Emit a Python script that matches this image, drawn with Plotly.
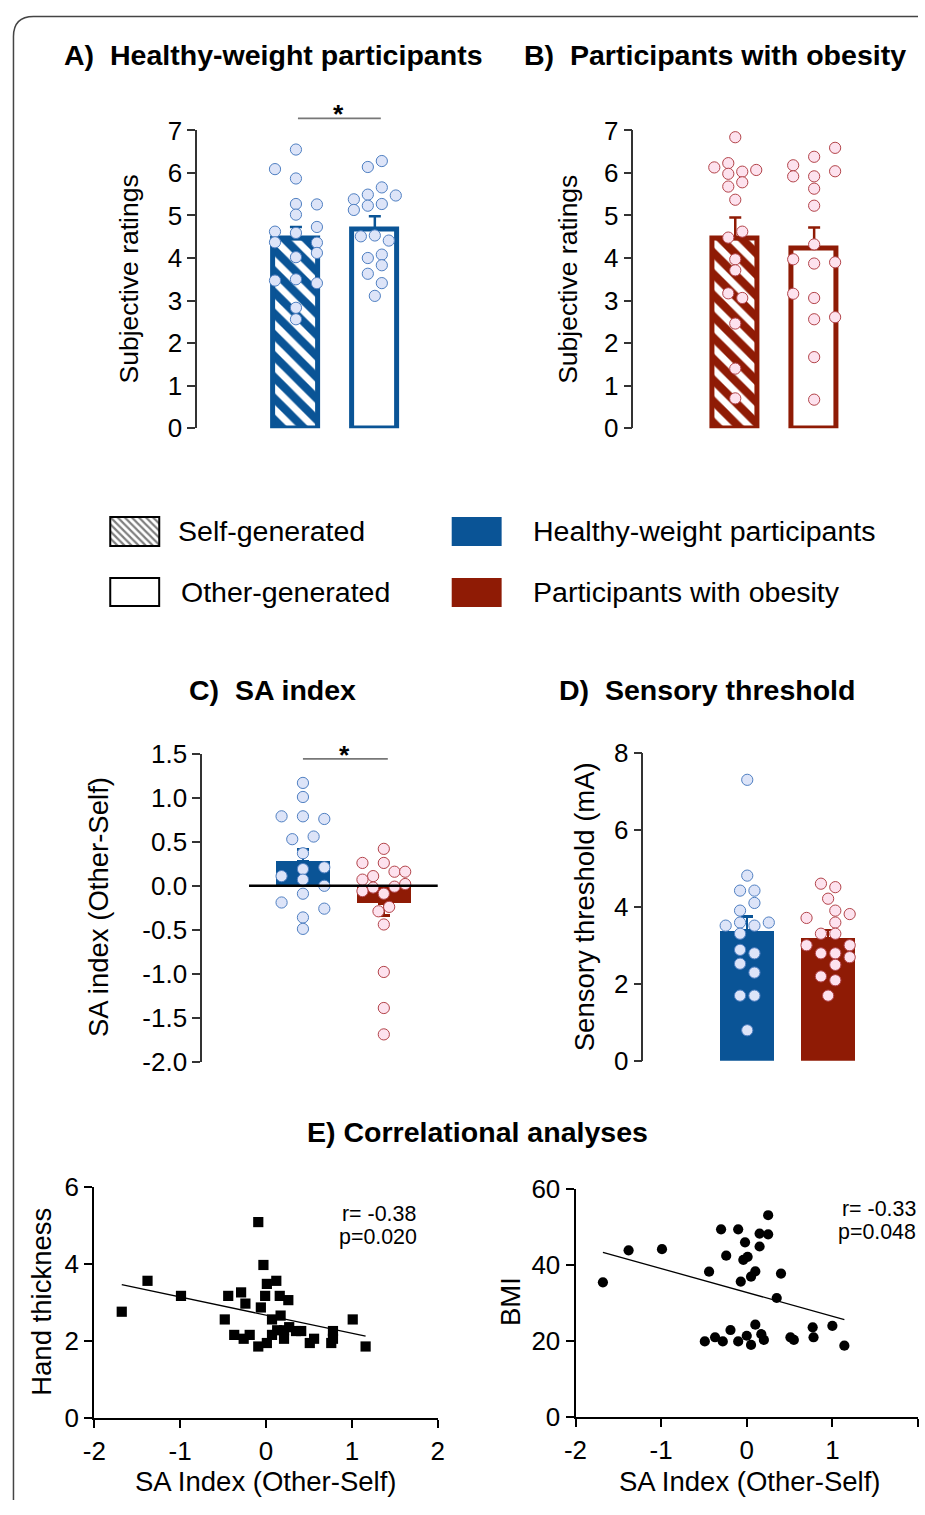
import numpy as np
import plotly.graph_objects as go

W, H = 925, 1515
BLUE = "#0a5496"
RED = "#8f1b05"
PT_BLUE_FILL = "#dde4f8"
PT_BLUE_EDGE = "#5080c2"
PT_RED_FILL = "#fde2ee"
PT_RED_EDGE = "#b3454b"
AXC = "#333333"
FONT = "Liberation Sans, Arial, Helvetica, sans-serif"

# ---------------- data ----------------
conditions = ["Self-generated", "Other-generated"]
groups = ["Healthy-weight participants", "Participants with obesity"]

# A) Healthy-weight participants: subjective ratings
A_self = [6.55, 6.09, 5.87, 5.27, 5.26, 5.02, 4.62, 4.73, 4.59, 4.37, 4.36, 4.12, 4.02, 3.47, 3.50, 3.41, 2.83, 2.56]
A_self_lane = [0, -3, 0, 0, 3, 0, -3, 3, 0, -3, 3, 3, 0, -3, 0, 3, 0, 0]
A_other = [6.28, 6.14, 5.66, 5.49, 5.47, 5.38, 5.23, 5.27, 5.13, 4.51, 4.53, 4.41, 4.00, 4.08, 3.83, 3.63, 3.41, 3.11]
A_other_lane = [1, -1, 1, -1, 3, -3, -1, 1, -3, -2, 0, 2, -1, 1, 1, -1, 1, 0]
A_mean = [4.45, 4.68]
A_sem = [0.28, 0.30]

# B) Participants with obesity: subjective ratings
B_self = [6.84, 6.13, 6.23, 5.98, 6.03, 6.07, 5.78, 5.68, 5.37, 4.62, 4.48, 3.97, 3.71, 3.17, 3.06, 2.46, 1.40, 0.70]
B_self_lane = [0, -3, -1, -1, 1, 3, 1, -1, 0, 1, -1, 0, 0, -1, 1, 0, 0, 0]
B_other = [6.59, 6.38, 6.18, 5.92, 5.92, 6.04, 5.63, 5.23, 4.32, 3.97, 3.87, 3.90, 3.16, 3.06, 2.56, 2.61, 1.67, 0.67]
B_other_lane = [3, 0, -3, -3, 0, 3, 0, 0, 0, -3, 0, 3, -3, 0, 0, 3, 0, 0]
B_mean = [4.45, 4.22]
B_sem = [0.50, 0.50]

# C) SA index (Other-Self)
C_hw = [1.17, 1.01, 0.79, 0.79, 0.76, 0.53, 0.56, 0.37, 0.19, 0.21, 0.11, 0.07, 0.00, -0.09, -0.19, -0.26, -0.36, -0.49]
C_hw_lane = [0, 0, -2, 0, 2, -1, 1, 0, 0, 2, -2, 0, 2, 0, -2, 2, 0, 0]
C_ob = [0.42, 0.26, 0.26, 0.16, 0.16, 0.11, 0.07, -0.02, -0.01, 0.02, -0.06, -0.09, -0.24, -0.29, -0.44, -0.98, -1.39, -1.69]
C_ob_lane = [0, -2, 0, 1, 2, -1, -2, -1, 1, 2, -2, 0, 0.5, -0.5, 0, 0, 0, 0]
C_mean = [0.28, -0.20]
C_sem = [0.13, 0.14]

# D) Sensory threshold (mA)
D_hw = [7.30, 4.81, 4.42, 4.42, 4.10, 3.90, 3.59, 3.51, 3.51, 3.59, 3.30, 2.88, 2.79, 2.52, 2.29, 1.69, 1.69, 0.79]
D_hw_lane = [0, 0, -1, 1, 1, -1, -1, -3, 1, 3, -1, -1, 1, -1, 1, -1, 1, 0]
D_ob = [4.60, 4.51, 4.21, 3.90, 3.81, 3.71, 3.59, 3.30, 3.30, 3.00, 3.00, 2.69, 2.79, 2.79, 2.49, 2.19, 2.09, 1.69]
D_ob_lane = [-1, 1, 0, 1, 3, -3, 1, -1, 1, -3, 3, 3, -1, 1, 1, -1, 1, 0]
D_mean = [3.38, 3.19]
D_sem = [0.37, 0.21]

# E) Correlational analyses
E1_sa = [-1.68, -1.38, -0.99, -0.48, -0.44, -0.37, -0.29, -0.26, -0.24, -0.19, -0.09, -0.09, -0.06, -0.03,
         -0.01, 0.01, 0.01, 0.07, 0.07, 0.12, 0.13, 0.16, 0.17, 0.21, 0.21, 0.26, 0.27, 0.35, 0.41, 0.51,
         0.56, 0.76, 0.78, 0.78, 1.01, 1.16]
E1_hand = [2.76, 3.56, 3.17, 2.56, 3.17, 2.16, 3.26, 2.06, 2.97, 2.16, 5.08, 1.86, 2.87, 3.97,
           3.17, 3.48, 1.95, 2.56, 2.16, 3.56, 2.28, 3.17, 2.66, 2.06, 2.28, 3.06, 2.36, 2.26, 2.26, 1.95,
           2.06, 1.95, 2.26, 2.06, 2.56, 1.86]
E2_sa = [-1.68, -1.38, -0.99, -0.49, -0.44, -0.37, -0.30, -0.28, -0.24, -0.19, -0.10, -0.10, -0.07, -0.04,
         -0.02, 0.00, 0.01, 0.05, 0.05, 0.10, 0.10, 0.15, 0.15, 0.17, 0.20, 0.25, 0.25, 0.35, 0.40, 0.51,
         0.55, 0.77, 0.78, 1.00, 1.14]
E2_bmi = [35.4, 43.8, 44.1, 19.9, 38.2, 21.0, 49.3, 19.9, 42.4, 22.9, 49.3, 19.9, 35.6, 41.3,
          45.9, 21.4, 42.1, 19.0, 36.9, 38.3, 24.3, 48.2, 44.8, 21.8, 20.3, 53.0, 48.0, 31.3, 37.7, 21.0,
          20.3, 23.6, 21.0, 24.0, 18.8]
E1_r, E1_p = "r= -0.38", "p=0.020"
E2_r, E2_p = "r= -0.33", "p=0.048"

# ---------------- layout helpers ----------------
# Layout positions below are given in the reference picture's pixels; the rendered page is
# shown slightly inset/scaled, so they are mapped onto page pixels here.
SC = 0.981
OX, OY = 10.6, 14.5

def X(r):
    return min(max((r - OX) / SC, 0), W)

def Y(r):
    return min(max((r - OY) / SC, 0), H)

def FS(s):
    return s / SC

def px(r):
    return X(r) / W

def py(r):
    return 1 - Y(r) / H

def xdom(a, b):
    return [px(a), px(b)]

def ydom(top, bottom):
    return [py(bottom), py(top)]

fig = go.Figure()

TICKSZ = FS(25.5)
ytick_style = dict(showline=True, linecolor=AXC, linewidth=1.6, ticks="outside", ticklen=8,
                   tickwidth=1.6, tickcolor=AXC, showgrid=False, zeroline=False,
                   tickfont=dict(size=TICKSZ, family=FONT, color="black"))
hidden_x = dict(showline=False, showticklabels=False, showgrid=False, zeroline=False, ticks="")

def xrange_for(left_px, right_px, c0_px, spacing):
    return [(left_px - c0_px) / spacing, (right_px - c0_px) / spacing]

panels = {
    "A": dict(xd=(196, 420), c0=295, sp=79, yd=(130, 428)),
    "B": dict(xd=(633, 860), c0=735, sp=79, yd=(130, 428)),
    "C": dict(xd=(248, 437), c0=302, sp=81, yd=(754, 1062), ypos=200),
    "D": dict(xd=(643, 870), c0=747, sp=81, yd=(753, 1061)),
}

layout_axes = {}
p = panels["A"]
layout_axes["xaxis"] = dict(domain=xdom(*p["xd"]), range=xrange_for(p["xd"][0], p["xd"][1], p["c0"], p["sp"]),
                            anchor="y", **hidden_x)
layout_axes["yaxis"] = dict(domain=ydom(*p["yd"]), range=[0, 7], anchor="x",
                            tickvals=list(range(0, 8)), ticktext=[str(v) for v in range(0, 8)], **ytick_style)
p = panels["B"]
layout_axes["xaxis2"] = dict(domain=xdom(*p["xd"]), range=xrange_for(p["xd"][0], p["xd"][1], p["c0"], p["sp"]),
                             anchor="y2", **hidden_x)
layout_axes["yaxis2"] = dict(domain=ydom(*p["yd"]), range=[0, 7], anchor="x2",
                             tickvals=list(range(0, 8)), ticktext=[str(v) for v in range(0, 8)], **ytick_style)
p = panels["C"]
cvals = [1.5, 1.0, 0.5, 0.0, -0.5, -1.0, -1.5, -2.0]
layout_axes["xaxis3"] = dict(domain=xdom(*p["xd"]), range=xrange_for(p["xd"][0], p["xd"][1], p["c0"], p["sp"]),
                             anchor="y3", **hidden_x)
layout_axes["yaxis3"] = dict(domain=ydom(*p["yd"]), range=[-2, 1.5], anchor="free", position=px(p["ypos"]),
                             tickvals=cvals, ticktext=[f"{v:.1f}" for v in cvals], **ytick_style)
p = panels["D"]
dvals = [0, 2, 4, 6, 8]
layout_axes["xaxis4"] = dict(domain=xdom(*p["xd"]), range=xrange_for(p["xd"][0], p["xd"][1], p["c0"], p["sp"]),
                             anchor="y4", **hidden_x)
layout_axes["yaxis4"] = dict(domain=ydom(*p["yd"]), range=[0, 8], anchor="x4",
                             tickvals=dvals, ticktext=[str(v) for v in dvals], **ytick_style)
e_style = dict(showline=True, linecolor="black", linewidth=2, ticks="outside", ticklen=8, tickwidth=2,
               tickcolor="black", showgrid=False, zeroline=False,
               tickfont=dict(size=TICKSZ, family=FONT, color="black"))
exvals = [-2, -1, 0, 1, 2]
layout_axes["xaxis5"] = dict(domain=xdom(93, 437), range=[-2, 2], anchor="y5",
                             tickvals=exvals, ticktext=[str(v) for v in exvals], **e_style)
layout_axes["yaxis5"] = dict(domain=ydom(1187, 1419), range=[0, 6], anchor="x5",
                             tickvals=[0, 2, 4, 6], ticktext=["0", "2", "4", "6"], **e_style)
e6 = dict(e_style)
layout_axes["xaxis6"] = dict(domain=[px(575), 1.0], range=[-2, 2 * (W - X(748)) / (X(920) - X(748))],
                             anchor="y6", tickvals=exvals, ticktext=[str(v) for v in exvals], **e6)
layout_axes["yaxis6"] = dict(domain=ydom(1189, 1418), range=[0, 60], anchor="x6",
                             tickvals=[0, 20, 40, 60], ticktext=["0", "20", "40", "60"], **e_style)
layout_axes["xaxis7"] = dict(domain=xdom(105, 162), range=[-0.582, 0.582], anchor="y7", visible=False)
layout_axes["yaxis7"] = dict(domain=ydom(513, 550), range=[-0.138, 1.138], anchor="x7", visible=False)

# ---------------- traces ----------------
def lanes_to_x(center, lanes, step):
    return [center + l * step for l in lanes]

PT_SIZE = FS(11)

def rating_panel(xa, ya, means, sems, color, self_pts, self_lane, other_pts, other_lane, pfill, pedge, step):
    fig.add_trace(go.Bar(x=[0], y=[means[0]], width=0.57, xaxis=xa, yaxis=ya,
                         marker=dict(color="white", line=dict(color=color, width=5),
                                     pattern=dict(shape="\\", fgcolor=color, bgcolor="white",
                                                  size=15, solidity=0.55, fgopacity=1)),
                         error_y=dict(type="data", symmetric=False, array=[sems[0]], arrayminus=[0],
                                      color=color, thickness=2.5, width=6)))
    fig.add_trace(go.Bar(x=[1], y=[means[1]], width=0.57, xaxis=xa, yaxis=ya,
                         marker=dict(color="white", line=dict(color=color, width=5)),
                         error_y=dict(type="data", symmetric=False, array=[sems[1]], arrayminus=[0],
                                      color=color, thickness=2.5, width=6)))
    fig.add_trace(go.Scatter(x=lanes_to_x(0, self_lane, step), y=self_pts, mode="markers", xaxis=xa, yaxis=ya,
                             cliponaxis=False,
                             marker=dict(size=PT_SIZE, color=pfill, line=dict(color=pedge, width=1))))
    fig.add_trace(go.Scatter(x=lanes_to_x(1, other_lane, step), y=other_pts, mode="markers", xaxis=xa, yaxis=ya,
                             cliponaxis=False,
                             marker=dict(size=PT_SIZE, color=pfill, line=dict(color=pedge, width=1))))

rating_panel("x", "y", A_mean, A_sem, BLUE, A_self, A_self_lane, A_other, A_other_lane,
             PT_BLUE_FILL, PT_BLUE_EDGE, 7 / 79)
rating_panel("x2", "y2", B_mean, B_sem, RED, B_self, B_self_lane, B_other, B_other_lane,
             PT_RED_FILL, PT_RED_EDGE, 7 / 79)

def group_panel(xa, ya, means, sems, hw, hw_lane, ob, ob_lane, step):
    for i, (m, s, col) in enumerate(zip(means, sems, [BLUE, RED])):
        up = [s] if m >= 0 else [0]
        dn = [0] if m >= 0 else [s]
        fig.add_trace(go.Bar(x=[i], y=[m], width=0.667, xaxis=xa, yaxis=ya,
                             marker=dict(color=col, line=dict(color=col, width=0)),
                             error_y=dict(type="data", symmetric=False, array=up, arrayminus=dn,
                                          color=col, thickness=2.5, width=6)))
    fig.add_trace(go.Scatter(x=lanes_to_x(0, hw_lane, step), y=hw, mode="markers", xaxis=xa, yaxis=ya,
                             cliponaxis=False,
                             marker=dict(size=PT_SIZE, color=PT_BLUE_FILL, line=dict(color=PT_BLUE_EDGE, width=1))))
    fig.add_trace(go.Scatter(x=lanes_to_x(1, ob_lane, step), y=ob, mode="markers", xaxis=xa, yaxis=ya,
                             cliponaxis=False,
                             marker=dict(size=PT_SIZE, color=PT_RED_FILL, line=dict(color=PT_RED_EDGE, width=1))))

group_panel("x3", "y3", C_mean, C_sem, C_hw, C_hw_lane, C_ob, C_ob_lane, 10.7 / 81)
group_panel("x4", "y4", D_mean, D_sem, D_hw, D_hw_lane, D_ob, D_ob_lane, 7.2 / 81)

def corr_panel(xa, ya, xs, ys, symbol):
    xs = np.array(xs); ys = np.array(ys)
    fig.add_trace(go.Scatter(x=xs, y=ys, mode="markers", xaxis=xa, yaxis=ya, cliponaxis=False,
                             marker=dict(symbol=symbol, size=FS(10), color="black", line=dict(width=0))))
    slope, icpt = np.polyfit(xs, ys, 1)
    lx = np.array([xs.min(), xs.max()])
    fig.add_trace(go.Scatter(x=lx, y=slope * lx + icpt, mode="lines", xaxis=xa, yaxis=ya,
                             line=dict(color="black", width=1.3)))

corr_panel("x5", "y5", E1_sa, E1_hand, "square")
corr_panel("x6", "y6", E2_sa, E2_bmi, "circle")

fig.add_trace(go.Bar(x=[0], y=[1], width=1, xaxis="x7", yaxis="y7",
                     marker=dict(color="white", line=dict(color="black", width=2),
                                 pattern=dict(shape="\\", fgcolor="black", bgcolor="white",
                                              size=5, solidity=0.45))))

# ---------------- shapes ----------------
shapes = []
shapes.append(dict(type="line", xref="x3 domain", x0=0, x1=1, yref="y3", y0=0, y1=0,
                   line=dict(color="black", width=2.5), layer="above"))
shapes.append(dict(type="line", xref="paper", yref="paper", x0=px(297), x1=px(380), y0=py(118), y1=py(118),
                   line=dict(color="#777777", width=1.6)))
shapes.append(dict(type="line", xref="paper", yref="paper", x0=px(302), x1=px(387), y0=py(759), y1=py(759),
                   line=dict(color="#777777", width=1.6)))
shapes.append(dict(type="rect", xref="paper", yref="paper", x0=px(109), x1=px(158), y0=py(606), y1=py(578),
                   line=dict(color="black", width=2), fillcolor="white"))
shapes.append(dict(type="rect", xref="paper", yref="paper", x0=px(451), x1=px(501), y0=py(546), y1=py(517),
                   line=dict(width=0), fillcolor=BLUE))
shapes.append(dict(type="rect", xref="paper", yref="paper", x0=px(451), x1=px(501), y0=py(607), y1=py(578),
                   line=dict(width=0), fillcolor=RED))
fx0, fy0 = 1.5 / W, 1 - 1.5 / H
frame = (f"M {fx0},0 L {fx0},{1 - 22 / H} Q {fx0},{fy0} {22 / W},{fy0} L 1,{fy0}")
shapes.append(dict(type="path", xref="paper", yref="paper", path=frame,
                   line=dict(color="#444444", width=1.5)))

# ---------------- annotations ----------------
ann = []
def text(t, x, y, size, bold=False, xanchor="center", angle=0, align="center"):
    ann.append(dict(text=f"<b>{t}</b>" if bold else t, x=px(x), y=py(y), xref="paper", yref="paper",
                    showarrow=False, xanchor=xanchor, yanchor="middle", textangle=angle, align=align,
                    font=dict(size=FS(size), family=FONT, color="black")))

text("A)  Healthy-weight participants", 61, 55, 28, bold=True, xanchor="left")
text("B)  Participants with obesity", 521, 55, 28, bold=True, xanchor="left")
text("C)  SA index", 186, 690, 28, bold=True, xanchor="left")
text("D)  Sensory threshold", 556, 690, 28, bold=True, xanchor="left")
text("E) Correlational analyses", 477, 1132, 28, bold=True)

text("Subjective ratings", 128, 279, 26, angle=-90)
text("Subjective ratings", 568, 279, 26, angle=-90)
text("SA index (Other-Self)", 98, 907, 27, angle=-90)
text("Sensory threshold (mA)", 584, 907, 27, angle=-90)
text("Hand thickness", 40, 1302, 27, angle=-90)
text("BMI", 510, 1302, 27, angle=-90)
text("SA Index (Other-Self)", 265, 1482, 27)
text("SA Index (Other-Self)", 750, 1482, 27)

text("*", 338, 114, 26, bold=True)
text("*", 344, 755, 26, bold=True)

text(E1_r, 417, 1214, 21, xanchor="right")
text(E1_p, 418, 1237, 21, xanchor="right")
text(E2_r, 918, 1209, 21, xanchor="right")
text(E2_p, 918, 1232, 21, xanchor="right")

text(conditions[0], 175, 531, 28, xanchor="left")
text(conditions[1], 178, 592, 28, xanchor="left")
text(groups[0], 530, 531, 28, xanchor="left")
text(groups[1], 530, 592, 28, xanchor="left")

fig.update_layout(width=W, height=H, margin=dict(l=0, r=0, t=0, b=0),
                  paper_bgcolor="white", plot_bgcolor="rgba(0,0,0,0)", showlegend=False,
                  font=dict(family=FONT, color="black"), bargap=0,
                  shapes=shapes, annotations=ann, **layout_axes)

post = ("var d=document.getElementById('{plot_id}');"
        "d.style.position='fixed';d.style.left='0px';d.style.top='0px';"
        "[document.documentElement, document.body].forEach(function(e){"
        "e.style.margin='0';e.style.padding='0';e.style.overflow='hidden';"
        "e.style.width='925px';e.style.height='1515px';});")
fig.write_html("out.html", config={"displayModeBar": False}, post_script=post)
